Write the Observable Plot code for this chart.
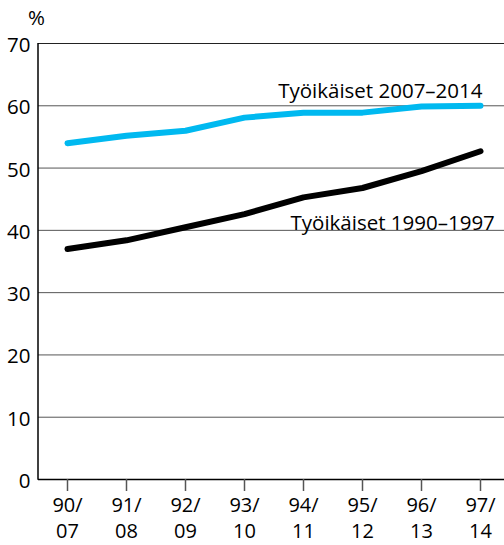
<!DOCTYPE html>
<html><head><meta charset="utf-8">
<script src="https://cdn.jsdelivr.net/npm/d3@7"></script>
<script src="https://cdn.jsdelivr.net/npm/@observablehq/plot@0.6"></script>
<style>body{margin:0;background:#fff}</style>
</head><body><div id="chart"></div>
<script>
const categories = ["90/\n07","91/\n08","92/\n09","93/\n10","94/\n11","95/\n12","96/\n13","97/\n14"];
const series2007 = [54, 55.2, 56, 58.1, 58.9, 58.9, 59.9, 60];
const series1990 = [37, 38.4, 40.5, 42.6, 45.3, 46.8, 49.5, 52.7];
const yTicks = [0,10,20,30,40,50,60,70];
const labels = [
  {name:"Työikäiset 2007–2014", x:"97/\n14", y:61.3, anchor:"end", dx:2},
  {name:"Työikäiset 1990–1997", x:"94/\n11", y:40.0, anchor:"start", dx:-13}
];
const data = [
  ...categories.map((c,i)=>({cat:c, v:series2007[i], s:"2007"})),
  ...categories.map((c,i)=>({cat:c, v:series1990[i], s:"1990"}))
];
const font = "'Open Sans', sans-serif";
const fs = 20;
const chart = Plot.plot({
  width: 504, height: 545,
  marginLeft: 38, marginRight: 0, marginTop: 43, marginBottom: 66,
  style: {fontFamily: font, fontSize: fs + "px", color: "#000", background: "#fff"},
  x: {type: "point", domain: categories, range: [67, 480], padding: 0},
  y: {domain: [0, 70], range: [479, 43]},
  marks: [
    Plot.ruleY(yTicks.filter(d=>d>0 && d<70), {stroke: "#555", strokeWidth: 1, strokeOpacity: 1}),
    Plot.ruleY([70], {stroke: "#222", strokeWidth: 1.2}),
    Plot.ruleY([0], {stroke: "#000", strokeWidth: 1.5}),
    Plot.axisY({ticks: yTicks, tickSize: 0, tickPadding: 8, label: null, fontSize: 20.5, dy: 2}),
    Plot.axisX({tickSize: 12, tickPadding: 3, label: null, stroke: "#555", strokeWidth: 1.5, lineHeight: 1.26, fontSize: fs}),
    Plot.line(data, {x: "cat", y: "v", z: "s", stroke: d => d.s === "2007" ? "#00b9f0" : "#000", strokeWidth: 6, strokeLinecap: "round", strokeLinejoin: "round"}),
    Plot.text(labels.filter(d=>d.anchor==="end"), {x: "x", y: "y", text: "name", textAnchor: "end", dx: 2, fontSize: 20.5, lineAnchor: "bottom"}),
    Plot.text(labels.filter(d=>d.anchor==="start"), {x: "x", y: "y", text: "name", textAnchor: "start", dx: -13, fontSize: 20.5, lineAnchor: "bottom"}),
    Plot.text(["%"], {frameAnchor: "top-left", dx: -2, dy: -25, fontSize: 20.5, textAnchor: "middle", lineAnchor: "middle"})
  ]
});
document.getElementById("chart").appendChild(chart);
const svg = d3.select(chart);
svg.append("line").attr("x1",38).attr("x2",38).attr("y1",43).attr("y2",479.75).attr("stroke","#000").attr("stroke-width",1.5);
</script>
</body></html>
